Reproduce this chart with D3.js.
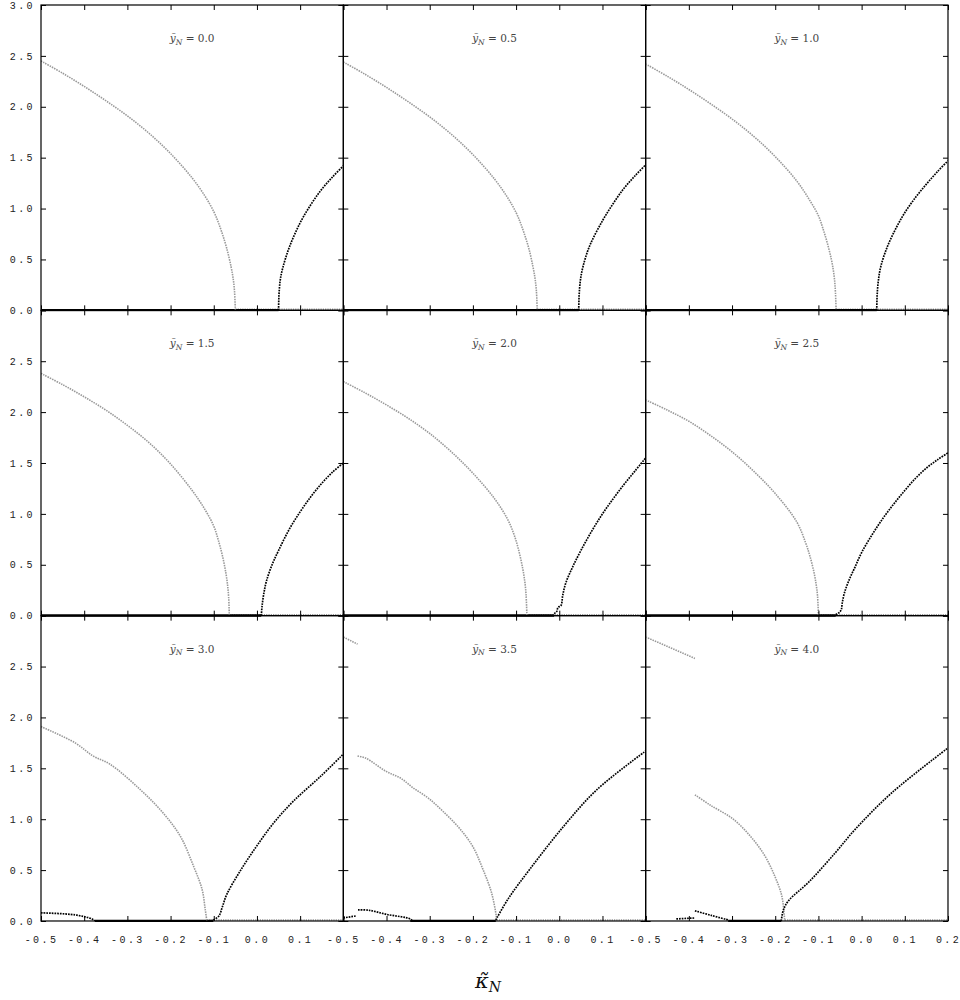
<!DOCTYPE html>
<html>
<head>
<meta charset="utf-8">
<script src="https://cdn.jsdelivr.net/npm/d3@7"></script>
<style>
  body { margin: 0; background: #fff; }
  .tick text { font-family: "Liberation Mono", monospace; font-size: 10px; letter-spacing: 2.4px; fill: #222; }
  .tick line { stroke: #000; }
  .label { font-family: "DejaVu Serif", serif; font-size: 10.5px; fill: #444; }
  .title { font-family: "DejaVu Serif", serif; font-size: 21px; fill: #111; }
</style>
</head>
<body>
<svg id="chart" width="960" height="1000"></svg>
<script>
const kappaTicks = [-0.5, -0.4, -0.3, -0.2, -0.1, 0.0, 0.1, 0.2];
const valueTicks = [0, 0.5, 1.0, 1.5, 2.0, 2.5, 3.0];
const yNLabels = ['0.0', '0.5', '1.0', '1.5', '2.0', '2.5', '3.0', '3.5', '4.0'];

// upper branch (grey), lower branch (black): [kappa, value]
const upper00 = [[-0.5, 2.45], [-0.45, 2.33], [-0.4, 2.2], [-0.35, 2.06], [-0.3, 1.91], [-0.25, 1.74], [-0.2, 1.54], [-0.15, 1.3], [-0.12, 1.12], [-0.1, 0.97], [-0.09, 0.87], [-0.08, 0.75], [-0.07, 0.61], [-0.06, 0.43], [-0.055, 0.31], [-0.052, 0.19], [-0.05, 0]];
const lower00 = [[0.05, 0], [0.051, 0.15], [0.054, 0.3], [0.06, 0.42], [0.075, 0.62], [0.1, 0.86], [0.125, 1.04], [0.15, 1.19], [0.175, 1.31], [0.2, 1.42]];
const upper05 = [[-0.5, 2.44], [-0.45, 2.32], [-0.4, 2.19], [-0.35, 2.05], [-0.3, 1.9], [-0.25, 1.73], [-0.2, 1.53], [-0.15, 1.29], [-0.12, 1.11], [-0.1, 0.96], [-0.09, 0.86], [-0.08, 0.74], [-0.07, 0.6], [-0.061, 0.43], [-0.056, 0.31], [-0.053, 0.19], [-0.051, 0]];
const lower05 = [[0.045, 0], [0.046, 0.15], [0.049, 0.3], [0.055, 0.43], [0.07, 0.63], [0.1, 0.88], [0.125, 1.05], [0.15, 1.2], [0.175, 1.32], [0.2, 1.43]];
const upper10 = [[-0.5, 2.42], [-0.45, 2.3], [-0.4, 2.17], [-0.35, 2.03], [-0.3, 1.88], [-0.25, 1.71], [-0.2, 1.51], [-0.15, 1.27], [-0.12, 1.08], [-0.1, 0.93], [-0.09, 0.81], [-0.08, 0.67], [-0.07, 0.5], [-0.065, 0.38], [-0.062, 0.27], [-0.0605, 0.17], [-0.059, 0]];
const lower10 = [[0.035, 0], [0.036, 0.15], [0.039, 0.3], [0.045, 0.44], [0.06, 0.63], [0.08, 0.81], [0.1, 0.96], [0.125, 1.11], [0.15, 1.24], [0.175, 1.36], [0.2, 1.47]];
const upper15 = [[-0.5, 2.38], [-0.45, 2.27], [-0.4, 2.15], [-0.35, 2.02], [-0.3, 1.87], [-0.25, 1.7], [-0.2, 1.49], [-0.15, 1.23], [-0.12, 1.04], [-0.1, 0.88], [-0.09, 0.75], [-0.08, 0.59], [-0.072, 0.42], [-0.068, 0.3], [-0.0655, 0.18], [-0.064, 0]];
const lower15 = [[0.01, 0], [0.012, 0.1], [0.016, 0.22], [0.022, 0.34], [0.035, 0.5], [0.05, 0.64], [0.075, 0.85], [0.1, 1.02], [0.125, 1.17], [0.15, 1.3], [0.175, 1.41], [0.2, 1.5]];
const upper20 = [[-0.5, 2.3], [-0.45, 2.19], [-0.4, 2.07], [-0.35, 1.94], [-0.3, 1.79], [-0.25, 1.61], [-0.2, 1.4], [-0.15, 1.15], [-0.12, 0.95], [-0.105, 0.8], [-0.095, 0.66], [-0.085, 0.47], [-0.08, 0.34], [-0.077, 0.21], [-0.075, 0]];
const lower20 = [[-0.012, 0.02], [-0.006, 0.04], [-0.003, 0.08], [0.004, 0.1], [0.008, 0.2], [0.015, 0.32], [0.03, 0.47], [0.05, 0.64], [0.075, 0.83], [0.1, 1.0], [0.125, 1.15], [0.15, 1.29], [0.175, 1.42], [0.2, 1.55]];
const upper25 = [[-0.5, 2.12], [-0.45, 2.02], [-0.4, 1.91], [-0.35, 1.77], [-0.3, 1.61], [-0.25, 1.42], [-0.2, 1.2], [-0.15, 0.92], [-0.13, 0.72], [-0.12, 0.59], [-0.11, 0.42], [-0.105, 0.3], [-0.102, 0.19], [-0.1, 0]];
const lower25 = [[-0.06, 0.01], [-0.052, 0.03], [-0.047, 0.06], [-0.045, 0.12], [-0.04, 0.22], [-0.03, 0.34], [-0.015, 0.48], [0, 0.62], [0.025, 0.8], [0.05, 0.96], [0.075, 1.1], [0.1, 1.23], [0.125, 1.35], [0.15, 1.45], [0.175, 1.53], [0.2, 1.6]];
const upper30 = [[-0.5, 1.91], [-0.421, 1.75], [-0.379, 1.62], [-0.34, 1.54], [-0.27, 1.29], [-0.217, 1.06], [-0.177, 0.83], [-0.147, 0.54], [-0.127, 0.31], [-0.12, 0.12], [-0.116, 0]];
const lower30 = [[-0.101, 0.01], [-0.088, 0.05], [-0.08, 0.14], [-0.07, 0.26], [-0.039, 0.49], [0, 0.74], [0.04, 0.97], [0.085, 1.18], [0.147, 1.42], [0.2, 1.64]];
const side30 = [[-0.5, 0.08], [-0.421, 0.06], [-0.382, 0.02], [-0.375, 0]];
const upper35 = [[-0.467, 1.62], [-0.448, 1.6], [-0.401, 1.47], [-0.366, 1.4], [-0.339, 1.31], [-0.304, 1.21], [-0.27, 1.08], [-0.231, 0.91], [-0.2, 0.73], [-0.177, 0.51], [-0.157, 0.28], [-0.146, 0.05], [-0.145, 0]];
const lower35 = [[-0.147, 0.01], [-0.118, 0.22], [-0.068, 0.51], [0.01, 0.93], [0.087, 1.29], [0.2, 1.67]];
const stub35 = [[-0.5, 2.79], [-0.467, 2.72]];
const side35a = [[-0.5, 0.03], [-0.47, 0.05]];
const side35b = [[-0.466, 0.11], [-0.44, 0.105], [-0.4, 0.065], [-0.345, 0.02], [-0.34, 0]];
const upper40 = [[-0.386, 1.24], [-0.351, 1.14], [-0.297, 1.0], [-0.255, 0.82], [-0.224, 0.64], [-0.201, 0.44], [-0.185, 0.25], [-0.179, 0.05], [-0.178, 0]];
const lower40 = [[-0.186, 0], [-0.181, 0.11], [-0.169, 0.2], [-0.123, 0.38], [-0.061, 0.67], [-0.015, 0.9], [0.07, 1.26], [0.2, 1.7]];
const stub40 = [[-0.5, 2.79], [-0.386, 2.58]];
const side40a = [[-0.429, 0.02], [-0.386, 0.03]];
const side40b = [[-0.386, 0.1], [-0.348, 0.055], [-0.309, 0.01]];

// zero-valued stretches: [from, to]
const blackZero = [[-0.5, 0.05], [-0.5, 0.045], [-0.5, 0.035], [-0.5, 0.01], [-0.5, -0.012], [-0.5, -0.06], [-0.375, -0.101], [-0.345, -0.147], [-0.309, -0.186]];
const greyZero = [[-0.05, 0.2], [-0.051, 0.2], [-0.059, 0.2], [-0.064, 0.2], [-0.075, 0.2], [-0.1, 0.2], [-0.116, 0.2], [-0.145, 0.2], [-0.178, 0.2]];

const panels = [
    {grey: [upper00], black: [lower00]},
    {grey: [upper05], black: [lower05]},
    {grey: [upper10], black: [lower10]},
    {grey: [upper15], black: [lower15]},
    {grey: [upper20], black: [lower20]},
    {grey: [upper25], black: [lower25]},
    {grey: [upper30], black: [lower30, side30]},
    {grey: [upper35, stub35], black: [lower35, side35a, side35b]},
    {grey: [upper40, stub40], black: [lower40, side40a, side40b]}
];

const marginLeft = 41;
const marginTop = 5;
const W = 302.33;
const H = 305.33;

const chart = d3.select('#chart');
const x = d3.scaleLinear().domain([-0.5, 0.2]).range([0, W]);
const y = d3.scaleLinear().domain([0, 3]).range([H, 0]);
const line = d3.line()
    .x(d => x(d[0]))
    .y(d => y(d[1]))
    .curve(d3.curveCatmullRom.alpha(0.5));

chart.append('defs').append('clipPath')
    .attr('id', 'clip')
    .append('rect')
    .attr('width', W)
    .attr('height', H + 2)
    .attr('y', -1);

panels.forEach((p, i) => {
    const col = i % 3;
    const row = Math.floor(i / 3);
    const g = chart.append('g')
        .attr('transform', `translate(${marginLeft + col * W}, ${marginTop + row * H})`);

    const plot = g.append('g').attr('clip-path', 'url(#clip)');

    plot.append('line')
        .attr('x1', x(greyZero[i][0])).attr('x2', x(greyZero[i][1]))
        .attr('y1', y(0) - 1).attr('y2', y(0) - 1)
        .style('stroke', '#999').style('stroke-width', 1.5)
        .style('stroke-dasharray', '1.3 1');
    plot.append('line')
        .attr('x1', x(blackZero[i][0])).attr('x2', x(blackZero[i][1]))
        .attr('y1', y(0)).attr('y2', y(0))
        .style('stroke', '#000').style('stroke-width', 2.6);

    p.grey.forEach(s => {
        plot.append('path')
            .attr('d', line(s))
            .style('fill', 'none')
            .style('stroke', '#999')
            .style('stroke-width', 1.6)
            .style('stroke-dasharray', '1.5 1');
    });
    p.black.forEach(s => {
        plot.append('path')
            .attr('d', line(s))
            .style('fill', 'none')
            .style('stroke', '#000')
            .style('stroke-width', 1.7)
            .style('stroke-dasharray', '1.7 1');
    });

    const bottomLabels = col === 2 ? kappaTicks : kappaTicks.slice(0, -1);
    g.append('g')
        .attr('transform', `translate(0, ${H})`)
        .call(d3.axisBottom(x)
            .tickValues(kappaTicks)
            .tickSize(-5)
            .tickPadding(15)
            .tickFormat(d => (row === 2 && bottomLabels.includes(d)) ? d3.format('.1f')(d).replace('−', '-') : ''))
        .call(a => a.select('.domain').remove());
    g.append('g')
        .call(d3.axisTop(x).tickValues(kappaTicks).tickSize(-5).tickFormat(''))
        .call(a => a.select('.domain').remove());

    const leftLabels = row === 0 ? valueTicks : valueTicks.slice(0, -1);
    g.append('g')
        .call(d3.axisLeft(y)
            .tickValues(valueTicks)
            .tickSize(-5)
            .tickPadding(6)
            .tickFormat(d => (col === 0 && leftLabels.includes(d)) ? d3.format('.1f')(d) : ''))
        .call(a => a.select('.domain').remove());
    g.append('g')
        .attr('transform', `translate(${W}, 0)`)
        .call(d3.axisRight(y).tickValues(valueTicks).tickSize(-5).tickFormat(''))
        .call(a => a.select('.domain').remove());

    g.append('rect')
        .attr('width', W)
        .attr('height', H)
        .style('fill', 'none')
        .style('stroke', '#000')
        .style('stroke-width', 1.2);

    const label = g.append('text')
        .classed('label', true)
        .attr('x', W / 2)
        .attr('y', 37)
        .attr('text-anchor', 'middle');
    label.append('tspan').style('font-style', 'italic').text('\u1ef9');
    label.append('tspan').style('font-style', 'italic').style('font-size', '7.5px').attr('dy', 2.5).text('N');
    label.append('tspan').attr('dy', -2.5).text(` = ${yNLabels[i]}`);
});

const title = chart.append('text')
    .classed('title', true)
    .attr('x', 488)
    .attr('y', 988)
    .attr('text-anchor', 'middle');
title.append('tspan').style('font-style', 'italic').text('\u03ba\u0303');
title.append('tspan').style('font-style', 'italic').style('font-size', '14px').attr('dy', 4).text('N');
</script>
</body>
</html>
